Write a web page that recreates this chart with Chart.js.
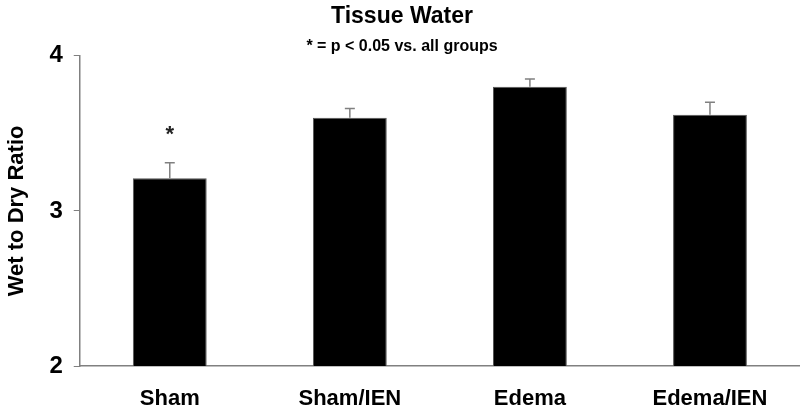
<!DOCTYPE html>
<html>
<head>
<meta charset="utf-8">
<script src="https://cdn.jsdelivr.net/npm/chart.js@4.4.0/dist/chart.umd.min.js"></script>
<style>
  html, body { margin: 0; padding: 0; background: #fff; }
  #wrap { width: 800px; height: 413px; }
</style>
</head>
<body>
<div id="wrap"><canvas id="waterChart"></canvas></div>
<script>
/* ================= DATA ================= */
const groups = ["Sham", "Sham/IEN", "Edema", "Edema/IEN"];
const wetDry = [3.21, 3.60, 3.80, 3.62];
const errUp = [0.10, 0.06, 0.05, 0.08];
const marked = [true, false, false, false];
const yTicks = [2, 3, 4];

const FONT = "'Liberation Sans', Arial, sans-serif";
const AXIS_GREY = "#808080";

/* ================= ERROR BARS + STAR ================= */
const errorBars = {
  id: "errorBars",
  afterDatasetsDraw(chart) {
    const ctx = chart.ctx;
    const meta = chart.getDatasetMeta(0);
    const y = chart.scales.y;
    ctx.save();
    meta.data.forEach((bar, i) => {
      const top = y.getPixelForValue(wetDry[i] + errUp[i]);
      ctx.strokeStyle = AXIS_GREY;
      ctx.lineWidth = 1.5;
      ctx.beginPath();
      ctx.moveTo(bar.x, bar.y);
      ctx.lineTo(bar.x, top);
      ctx.moveTo(bar.x - 5, top);
      ctx.lineTo(bar.x + 5, top);
      ctx.stroke();
      if (marked[i]) {
        ctx.fillStyle = "#222";
        ctx.font = "bold 22px " + FONT;
        ctx.textAlign = "center";
        ctx.textBaseline = "middle";
        ctx.fillText("*", bar.x, top - 28);
      }
    });
    ctx.restore();
  }
};

/* ================= CHART ================= */
new Chart(document.getElementById("waterChart"), {
  type: "bar",
  data: {
    labels: groups,
    datasets: [{
      label: "Wet to Dry Ratio",
      data: wetDry,
      backgroundColor: "#000",
      borderColor: "#555",
      borderWidth: 1,
      barPercentage: 0.41,
      categoryPercentage: 1
    }]
  },
  options: {
    responsive: true,
    maintainAspectRatio: false,
    animation: false,
    layout: { padding: { left: 4, right: 0, top: 0, bottom: 0 } },
    plugins: {
      legend: { display: false },
      tooltip: { enabled: false },
      title: {
        display: true,
        text: "Tissue Water",
        color: "#000",
        font: { family: FONT, size: 23, weight: "bold" },
        padding: { top: 3, bottom: 4 }
      },
      subtitle: {
        display: true,
        text: "* = p < 0.05 vs. all groups",
        color: "#000",
        font: { family: FONT, size: 16, weight: "bold" },
        padding: { top: 2, bottom: 0 }
      }
    },
    scales: {
      x: {
        grid: { display: false, drawTicks: false },
        border: { color: AXIS_GREY, width: 1.5 },
        ticks: {
          color: "#000",
          font: { family: FONT, size: 22, weight: "bold" },
          padding: 20
        },
        afterFit(scale) {
          scale.height = 47;
        }
      },
      y: {
        min: 2,
        max: 4,
        afterBuildTicks(scale) {
          scale.ticks = yTicks.map(v => ({ value: v }));
        },
        grid: {
          drawOnChartArea: false,
          drawTicks: true,
          tickLength: 6,
          color: AXIS_GREY
        },
        border: { color: AXIS_GREY, width: 1.5 },
        ticks: {
          color: "#000",
          font: { family: FONT, size: 24, weight: "bold" },
          padding: 11
        },
        title: {
          display: true,
          text: "Wet to Dry Ratio",
          color: "#000",
          font: { family: FONT, size: 22, weight: "bold" },
          padding: { top: 0, bottom: 8 }
        }
      }
    }
  },
  plugins: [errorBars]
});
</script>
</body>
</html>
